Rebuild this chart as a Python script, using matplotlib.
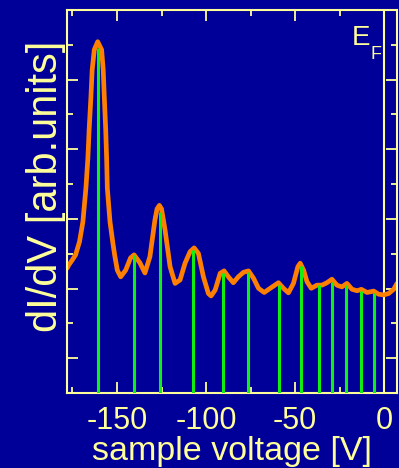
import matplotlib
matplotlib.use("Agg")
import matplotlib.pyplot as plt
from matplotlib.ticker import MultipleLocator

# measured dI/dV curve (sample voltage in V, signal in arb. units)
volt = [-177.9, -177.0, -175.1, -173.2, -171.0, -169.1, -167.4, -166.3, -165.6,
        -164.6, -163.9, -162.7, -160.8, -158.6, -157.7, -157.1, -156.3, -155.8,
        -155.4, -153.9, -152.4, -151.3, -149.8, -147.9, -145.1, -142.4, -140.4,
        -137.1, -134.3, -131.5, -128.7, -127.5, -126.2, -125.0, -123.0, -120.2,
        -117.4, -114.6, -111.8, -109.0, -106.7, -104.3, -101.5, -98.7, -97.2,
        -94.9, -92.1, -89.9, -87.5, -84.7, -81.9, -79.0, -76.2, -73.4, -70.6,
        -67.4, -64.0, -59.4, -56.6, -53.8, -51.0, -48.5, -47.2, -45.3, -43.4,
        -41.0, -37.8, -35.0, -32.2, -29.4, -26.6, -23.8, -21.0, -18.1, -15.3,
        -12.9, -9.7, -6.0, -3.2, -0.4, 2.4, 5.2, 7.1]
didv = [3.59, 3.68, 3.82, 3.97, 4.35, 4.92, 5.89, 6.75, 7.56,
        8.51, 9.28, 9.86, 10.09, 9.86, 9.28, 8.51, 7.56, 6.75,
        5.89, 4.92, 4.35, 3.97, 3.53, 3.34, 3.53, 3.88, 3.97,
        3.74, 3.45, 3.92, 4.97, 5.29, 5.39, 5.29, 4.68, 3.63,
        3.15, 3.25, 3.73, 4.06, 4.17, 4.01, 3.34, 2.86, 2.79,
        2.96, 3.44, 3.51, 3.34, 3.17, 3.34, 3.47, 3.51, 3.30, 3.01,
        2.89, 3.01, 3.17, 3.01, 2.88, 3.15, 3.63, 3.73, 3.53, 3.20,
        3.01, 3.10, 3.10, 3.17, 3.27, 3.10, 3.05, 3.15, 2.98, 2.94,
        2.98, 2.89, 2.93, 2.84, 2.82, 2.86, 2.98, 3.15]

# peak positions and heights (green sticks)
peak_v = [-160.8, -140.2, -125.7, -107.5, -90.3, -76.6, -59.2, -47.0,
          -36.7, -29.2, -21.3, -13.3, -5.6]
peak_h = [9.92, 3.97, 5.21, 4.11, 3.46, 3.49, 3.10, 3.65,
          3.10, 3.20, 3.10, 2.93, 2.88]

BG = "#000099"
FG = "#ffff99"
ORANGE = "#ff8000"
GREEN = "#11ee11"

plt.rcParams["font.family"] = ["Liberation Sans", "DejaVu Sans"]

fig = plt.figure(figsize=(3.99, 4.68), dpi=100)
fig.patch.set_facecolor(BG)
ax = fig.add_axes([0.168, 0.160, 0.827, 0.8186])
ax.set_facecolor(BG)

ax.plot(volt, didv, color=ORANGE, lw=3.4, solid_joinstyle="round",
        solid_capstyle="round", zorder=2)
ax.vlines(peak_v, 0, peak_h, color=GREEN, lw=2.2, zorder=3)
ax.axvline(0, color=FG, lw=1.5, zorder=1)

ax.set_xlim(-178, 7.1)
ax.set_ylim(0, 11)

ax.xaxis.set_minor_locator(MultipleLocator(25))
ax.yaxis.set_major_locator(MultipleLocator(2, offset=1))
ax.yaxis.set_minor_locator(MultipleLocator(1))
ax.tick_params(which="both", direction="in", top=True, right=True,
               colors=FG, width=1.3, labelleft=False)
ax.tick_params(which="major", length=8, labelsize=22, pad=9)
ax.tick_params(which="minor", length=4.5)
ax.set_xticks([-150, -100, -50, 0])
ax.set_xticklabels(["-150", "-100", "-50", "0"])
for s in ax.spines.values():
    s.set_color(FG)
    s.set_linewidth(1.5)

ax.set_xlabel("sample voltage [V]", color=FG, fontsize=24.5, labelpad=0)
ax.set_ylabel("dI/dV [arb.units]", color=FG, fontsize=30)
ax.yaxis.set_label_coords(-0.004, 0.54)

fig.text(352 / 399, 1 - 45 / 468, "E", color=FG, fontsize=20, va="baseline")
fig.text(370 / 399, 1 - 59 / 468, "F", color=FG, fontsize=13, va="baseline")

fig.savefig("out.png", facecolor=fig.get_facecolor())
